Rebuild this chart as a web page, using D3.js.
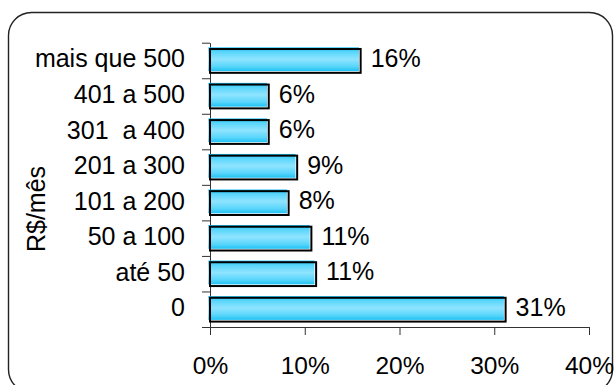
<!DOCTYPE html>
<html>
<head>
<meta charset="utf-8">
<script src="https://cdn.jsdelivr.net/npm/d3@7"></script>
<style>
  html, body { margin: 0; padding: 0; background: #fff; }
  svg { display: block; }
  text { font-family: "Liberation Sans", Arial, sans-serif; fill: #000; white-space: pre; }
</style>
</head>
<body>
<script>
// Monthly spending brackets (R$/mês), bottom to top, with share of respondents
const categories = ["0", "até 50", "50 a 100", "101 a 200", "201 a 300", "301  a 400", "401 a 500", "mais que 500"];
const shares = [0.312, 0.112, 0.107, 0.083, 0.092, 0.062, 0.062, 0.159];
const xTicks = [0, 0.1, 0.2, 0.3, 0.4];
const axisTitle = "R$/mês";

const W = 614, H = 385;
const plot = { left: 210, right: 589, top: 42.7, bottom: 327 };

const svg = d3.select("body").append("svg")
  .attr("width", W).attr("height", H);

// gradient used for bar fills
const grad = svg.append("defs").append("linearGradient")
  .attr("id", "barFill").attr("x1", 0).attr("y1", 0).attr("x2", 0).attr("y2", 1);
grad.append("stop").attr("offset", "0%").attr("stop-color", "#1fc2f4");
grad.append("stop").attr("offset", "20%").attr("stop-color", "#5ad6fb");
grad.append("stop").attr("offset", "50%").attr("stop-color", "#8fe4ff");
grad.append("stop").attr("offset", "80%").attr("stop-color", "#5ad6fb");
grad.append("stop").attr("offset", "100%").attr("stop-color", "#1fc2f4");

// rounded frame around the chart area
svg.append("rect")
  .attr("x", 8.5).attr("y", 12.5).attr("width", 604).attr("height", 380)
  .attr("rx", 23).attr("ry", 23)
  .attr("fill", "#fff").attr("stroke", "#222").attr("stroke-width", 1.4);

const x = d3.scaleLinear().domain([0, 0.4]).range([plot.left, plot.right]);
const y = d3.scaleBand().domain(categories).range([plot.bottom, plot.top]).padding(0);
const yEdge = d3.scaleLinear().domain([0, categories.length]).range([plot.bottom, plot.top]);

const labelSize = 25;
const tickSize = 24.5;

// category tick marks between bands
const yTickAxis = svg.append("g")
  .attr("transform", `translate(${plot.left},0)`)
  .call(d3.axisLeft(yEdge).tickValues(d3.range(categories.length + 1)).tickFormat("").tickSize(8).tickSizeOuter(0));
yTickAxis.selectAll("line, path").attr("stroke", "#333").attr("stroke-width", 1);

// category labels
const yLabelAxis = svg.append("g")
  .attr("transform", `translate(${plot.left},0)`)
  .call(d3.axisLeft(y).tickSize(0).tickPadding(25));
yLabelAxis.select(".domain").remove();
yLabelAxis.selectAll("text")
  .attr("font-size", labelSize).attr("font-family", "Liberation Sans, Arial, sans-serif")
  .attr("fill", "#000").attr("dy", "0.28em")
  .style("white-space", "pre");

// x axis with percentage ticks
const xAxis = svg.append("g")
  .attr("transform", `translate(0,${plot.bottom})`)
  .call(d3.axisBottom(x).tickValues(xTicks).tickFormat(d3.format(".0%")).tickSize(8).tickSizeOuter(0).tickPadding(22));
xAxis.selectAll("line, path").attr("stroke", "#333").attr("stroke-width", 1);
xAxis.selectAll("text")
  .attr("font-size", tickSize).attr("font-family", "Liberation Sans, Arial, sans-serif").attr("fill", "#000");

// bars: gradient fill nudged up-left, black outline below-right
const barH = y.bandwidth() * 0.67;
const barTop = d => y(d.c) + y.bandwidth() * 0.13;
const data = categories.map((c, i) => ({ c, v: shares[i] }));

const bars = svg.append("g");
bars.selectAll("rect.fill").data(data).join("rect")
  .attr("class", "fill")
  .attr("x", x(0) - 1.7)
  .attr("y", d => barTop(d))
  .attr("width", d => x(d.v) - x(0))
  .attr("height", barH)
  .attr("fill", "url(#barFill)");
bars.selectAll("rect.edge").data(data).join("rect")
  .attr("class", "edge")
  .attr("x", x(0))
  .attr("y", d => barTop(d) + 1.7)
  .attr("width", d => x(d.v) - x(0))
  .attr("height", barH)
  .attr("fill", "none")
  .attr("stroke", "#000")
  .attr("stroke-width", 2);

// value labels
svg.append("g").selectAll("text").data(data).join("text")
  .attr("x", d => x(d.v) + 10)
  .attr("y", d => y(d.c) + y.bandwidth() / 2 - 2)
  .attr("dy", "0.35em")
  .attr("font-size", labelSize)
  .text(d => d3.format(".0%")(d.v));

// axis title
svg.append("text")
  .attr("transform", "translate(45,209) rotate(-90)")
  .attr("text-anchor", "middle")
  .attr("font-size", labelSize)
  .text(axisTitle);
</script>
</body>
</html>
